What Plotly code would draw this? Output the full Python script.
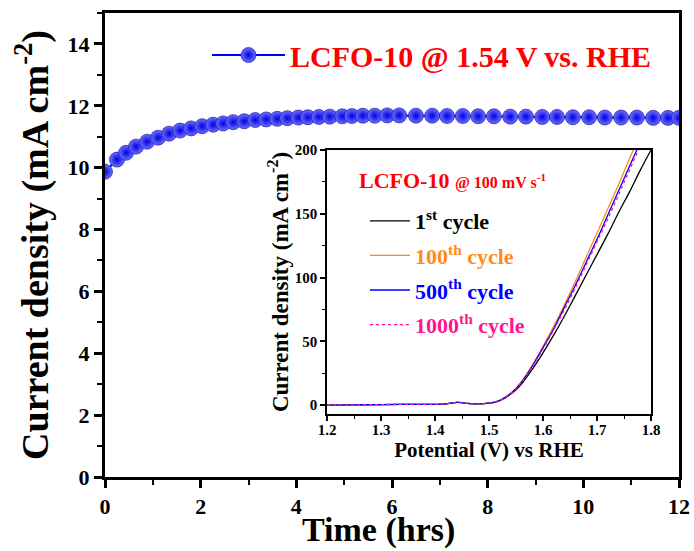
import plotly.graph_objects as go

# ---------------- data ----------------
time_hrs = [0.0, 0.25, 0.44, 0.65, 0.88, 1.11, 1.34, 1.57, 1.80, 2.03, 2.26, 2.47, 2.68, 2.91,
            3.14, 3.37, 3.60, 3.81, 4.04, 4.24, 4.47, 4.70, 4.96, 5.16, 5.39, 5.64, 5.90, 6.15,
            6.50, 6.84, 7.15, 7.48, 7.80, 8.13, 8.47, 8.80, 9.14, 9.45, 9.78, 10.12, 10.45,
            10.79, 11.12, 11.46, 11.77, 12.0]
current_density = [9.87, 10.26, 10.48, 10.68, 10.84, 10.97, 11.10, 11.20, 11.27, 11.34, 11.39,
                   11.43, 11.47, 11.50, 11.54, 11.56, 11.58, 11.60, 11.62, 11.63, 11.64, 11.65,
                   11.66, 11.67, 11.68, 11.68, 11.69, 11.69, 11.68, 11.68, 11.67, 11.67, 11.66,
                   11.66, 11.65, 11.65, 11.64, 11.64, 11.63, 11.63, 11.62, 11.62, 11.62, 11.61,
                   11.61, 11.61]

potential = [1.20, 1.25, 1.30, 1.35, 1.40, 1.42, 1.43, 1.44, 1.45, 1.46, 1.47, 1.48, 1.49,
             1.50, 1.51, 1.52, 1.53, 1.54, 1.55, 1.56, 1.58, 1.60, 1.62, 1.64, 1.66, 1.68,
             1.70, 1.72, 1.74, 1.76, 1.78, 1.80]
j_cycle1 = [0.0, 0.2, 0.4, 0.5, 0.6, 0.9, 1.5, 2.1, 1.9, 1.3, 1.0, 1.0, 1.1,
            1.5, 2.2, 3.5, 5.5, 8.5, 12, 16.5, 28, 41, 55, 70, 86, 102,
            118, 134, 151, 167, 184, 200]
j_cycle100 = [0.0, 0.2, 0.4, 0.5, 0.6, 0.9, 1.5, 2.1, 1.9, 1.3, 1.0, 1.0, 1.1,
              1.5, 2.3, 3.7, 6.0, 9.0, 13, 18, 31, 46, 62, 79, 97, 116,
              135, 154, 173, 193, 212, 231]
j_cycle500 = [0.0, 0.2, 0.4, 0.5, 0.6, 0.9, 1.5, 2.1, 1.9, 1.3, 1.0, 1.0, 1.1,
              1.5, 2.3, 3.7, 6.0, 9.0, 13, 18, 30.5, 45, 60, 77, 94, 112,
              130, 149, 168, 187, 206, 225]
j_cycle1000 = [0.0, 0.2, 0.4, 0.5, 0.6, 0.9, 1.5, 2.1, 1.9, 1.3, 1.0, 1.0, 1.1,
               1.5, 2.3, 3.7, 6.0, 9.0, 13, 18, 30, 44, 59, 75, 92, 110,
               128, 146, 165, 184, 203, 222]

main_label = "LCFO-10 @ 1.54 V vs. RHE"
cycle_names = ["1<sup>st</sup> cycle", "100<sup>th</sup> cycle",
               "500<sup>th</sup> cycle", "1000<sup>th</sup> cycle"]

main_x_ticks = [0, 2, 4, 6, 8, 10, 12]
main_x_labels = ["0", "2", "4", "6", "8", "10", "12"]
main_y_ticks = [0, 2, 4, 6, 8, 10, 12, 14]
main_y_labels = ["0", "2", "4", "6", "8", "10", "12", "14"]
inset_x_ticks = [1.2, 1.3, 1.4, 1.5, 1.6, 1.7, 1.8]
inset_x_labels = ["1.2", "1.3", "1.4", "1.5", "1.6", "1.7", "1.8"]
inset_y_ticks = [0, 50, 100, 150, 200]
inset_y_labels = ["0", "50", "100", "150", "200"]

# ---------------- styles ----------------
FONT = "Liberation Serif, Times New Roman, serif"
W, H = 694, 551
cycle_colors = ["#000000", "#FF8C1A", "#0000FF", "#FF1493"]
cycle_dash = ["solid", "solid", "solid", "dot"]


def b(labels):
    return [f"<b>{s}</b>" for s in labels]


fig = go.Figure()

fig.add_trace(go.Scatter(
    x=time_hrs, y=current_density, mode="lines+markers",
    name=main_label, legend="legend",
    line=dict(color="#0000FF", width=2),
    marker=dict(size=15, color="#7070FF",
                gradient=dict(type="radial", color="#0000E0"),
                line=dict(color="#0000A0", width=0.6)),
    xaxis="x", yaxis="y",
))

for i, jj in enumerate([j_cycle1, j_cycle100, j_cycle500, j_cycle1000]):
    fig.add_trace(go.Scatter(
        x=potential, y=jj, mode="lines",
        name=f"<span style='color:{cycle_colors[i]}'>{cycle_names[i]}</span>",
        legend="legend2", legendgroup=f"g{i}",
        line=dict(color=cycle_colors[i], width=1.3, dash=cycle_dash[i], shape="spline"),
        xaxis="x2", yaxis="y2",
    ))

mx0, mx1 = 105 / W, 679 / W
my0, my1 = (H - 477) / H, (H - 13) / H
ix0, ix1 = 327 / W, 651 / W
iy0, iy1 = (H - 414) / H, (H - 150) / H

tickf_main = dict(family=FONT, size=22, color="black")
tickf_in = dict(family=FONT, size=15, color="black")

fig.update_layout(
    width=W, height=H,
    margin=dict(l=0, r=0, t=0, b=0),
    paper_bgcolor="white", plot_bgcolor="white",
    showlegend=True,
    xaxis=dict(
        domain=[mx0, mx1], range=[0, 12],
        tickmode="array", tickvals=main_x_ticks, ticktext=b(main_x_labels),
        ticks="outside", ticklen=8, tickwidth=2.5, tickcolor="black",
        minor=dict(tick0=0, dtick=1, ticks="outside", ticklen=5, tickwidth=2, tickcolor="black"),
        showline=True, linewidth=3, linecolor="black", mirror=True,
        showgrid=False, zeroline=False, tickfont=tickf_main,
        automargin=False, anchor="y",
    ),
    yaxis=dict(
        domain=[my0, my1], range=[0, 15],
        tickmode="array", tickvals=main_y_ticks, ticktext=b(main_y_labels),
        ticks="outside", ticklen=8, tickwidth=2.5, tickcolor="black",
        minor=dict(tick0=0, dtick=1, ticks="outside", ticklen=5, tickwidth=2, tickcolor="black"),
        showline=True, linewidth=3, linecolor="black", mirror=True,
        showgrid=False, zeroline=False, tickfont=tickf_main,
        title=dict(text="<b>Current density (mA cm<sup>-2</sup>)</b>",
                   font=dict(family=FONT, size=38, color="black"), standoff=8),
        automargin=False, anchor="x",
    ),
    xaxis2=dict(
        domain=[ix0, ix1], range=[1.2, 1.8],
        tickmode="array", tickvals=inset_x_ticks, ticktext=b(inset_x_labels),
        ticks="outside", ticklen=5, tickwidth=1.5, tickcolor="black",
        minor=dict(tick0=1.2, dtick=0.05, ticks="outside", ticklen=3, tickwidth=1.2, tickcolor="black"),
        showline=True, linewidth=1.5, linecolor="black", mirror=True,
        showgrid=False, zeroline=False, tickfont=tickf_in,
        ticklabelstandoff=-4,
        title=dict(text="<b>Potential (V) vs RHE</b>",
                   font=dict(family=FONT, size=21, color="black"), standoff=2),
        automargin=False, anchor="y2",
    ),
    yaxis2=dict(
        domain=[iy0, iy1], range=[-7, 200],
        tickmode="array", tickvals=inset_y_ticks, ticktext=b(inset_y_labels),
        ticks="outside", ticklen=5, tickwidth=1.5, tickcolor="black",
        minor=dict(tick0=0, dtick=25, ticks="outside", ticklen=3, tickwidth=1.2, tickcolor="black"),
        showline=True, linewidth=1.5, linecolor="black", mirror=True,
        showgrid=False, zeroline=False, tickfont=tickf_in,
        title=dict(text="<b>Current density (mA cm<sup>-2</sup>)</b>",
                   font=dict(family=FONT, size=23, color="black"), standoff=0),
        automargin=False, anchor="x2",
    ),
    legend=dict(
        x=207 / W, y=(H - 55) / H, xanchor="left", yanchor="middle",
        bgcolor="rgba(0,0,0,0)", borderwidth=0,
        font=dict(family=FONT, size=30, color="#FF0000", weight="bold"),
        itemwidth=73,
    ),
    legend2=dict(
        x=365 / W, y=(H - 273) / H, xanchor="left", yanchor="middle",
        bgcolor="rgba(0,0,0,0)", borderwidth=0, tracegroupgap=3,
        font=dict(family=FONT, size=22, color="black", weight="bold"),
        itemwidth=40,
    ),
    annotations=[
        dict(
            xref="paper", yref="paper", x=378 / W, y=0,
            xanchor="center", yanchor="bottom", showarrow=False,
            text="<b>Time (hrs)</b>",
            font=dict(family=FONT, size=34, color="black"),
        ),
        dict(
            xref="paper", yref="paper", x=357 / W, y=(H - 180) / H,
            xanchor="left", yanchor="middle", showarrow=False,
            text="<b>LCFO-10 <span style='font-size:16px'>@ 100 mV s<sup>-1</sup></span></b>",
            font=dict(family=FONT, size=22, color="#FF0000"),
        ),
    ],
)

fig.write_html("out.html")
